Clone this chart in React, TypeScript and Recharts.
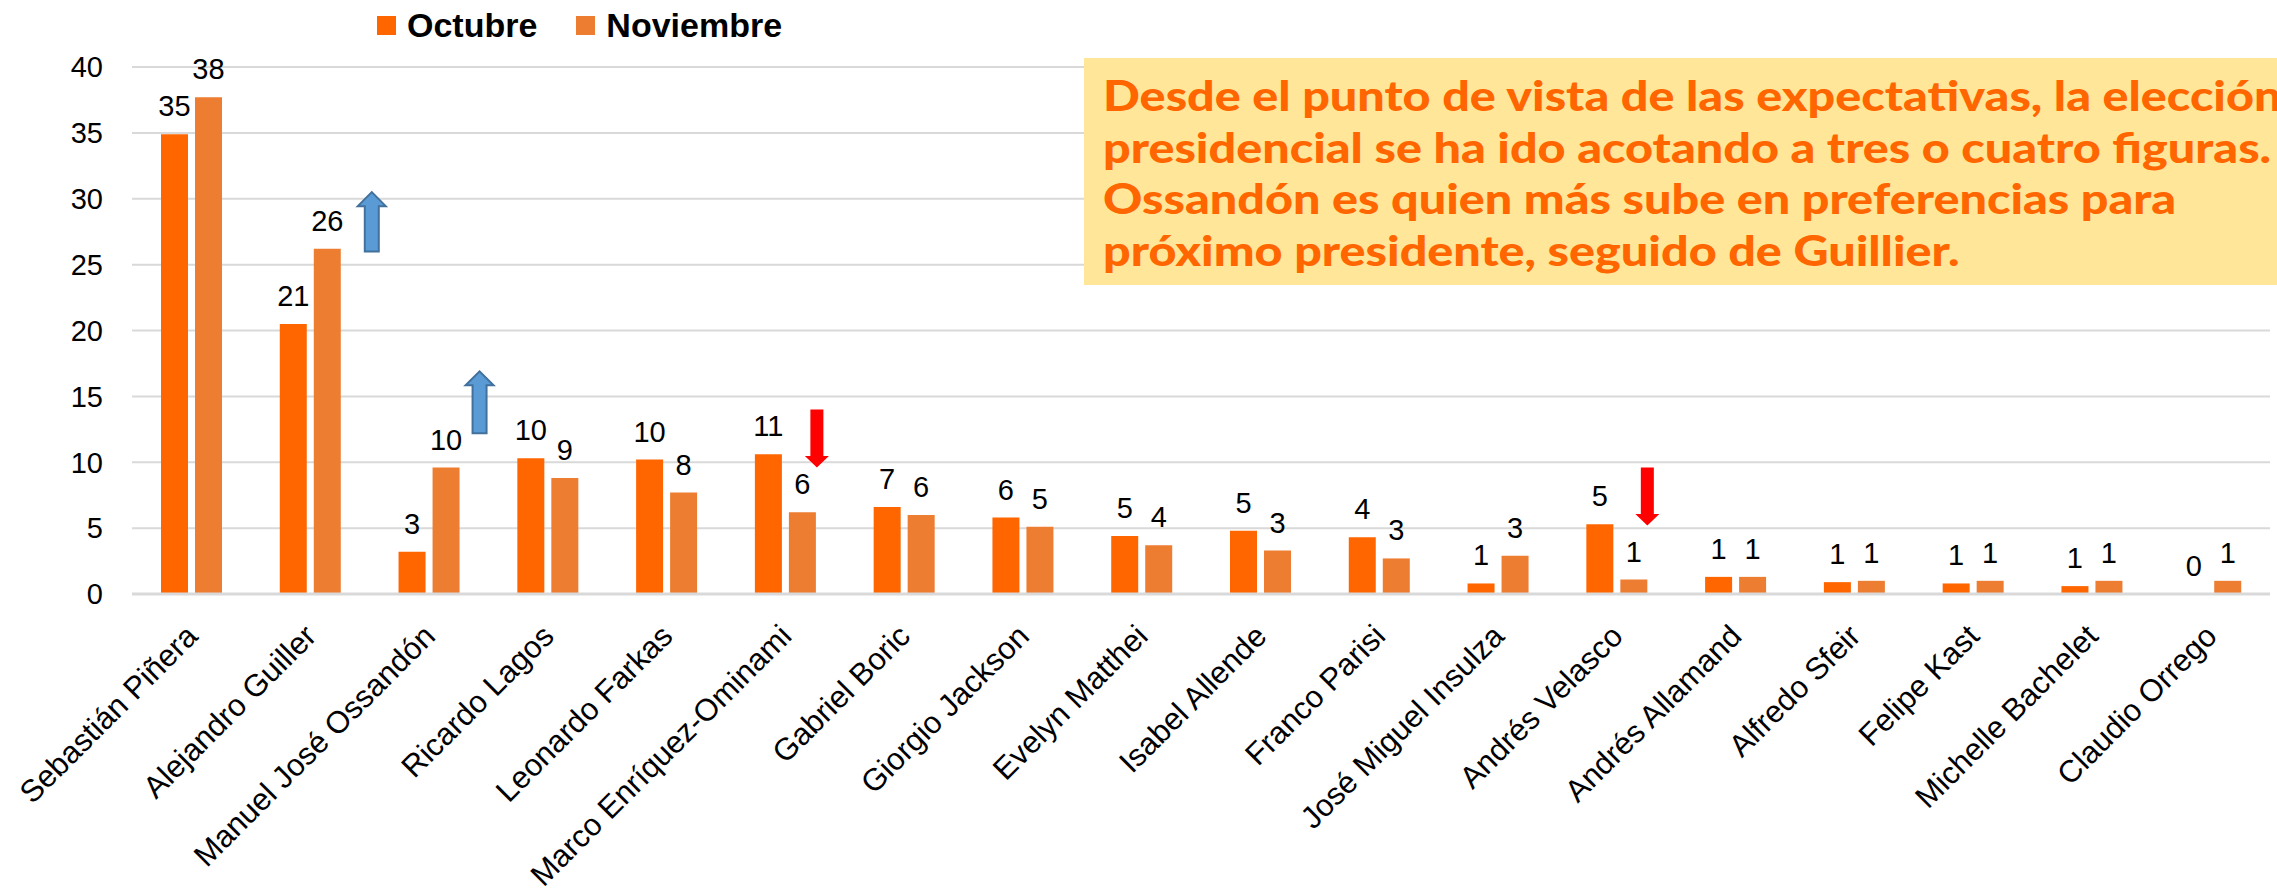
import React from 'react';
import { BarChart, Bar, XAxis, YAxis, CartesianGrid, Legend, LabelList } from 'recharts';

const candidatos = [
    'Sebastián Piñera',
    'Alejandro Guiller',
    'Manuel José Ossandón',
    'Ricardo Lagos',
    'Leonardo Farkas',
    'Marco Enríquez-Ominami',
    'Gabriel Boric',
    'Giorgio Jackson',
    'Evelyn Matthei',
    'Isabel Allende',
    'Franco Parisi',
    'José Miguel Insulza',
    'Andrés Velasco',
    'Andrés Allamand',
    'Alfredo Sfeir',
    'Felipe Kast',
    'Michelle Bachelet',
    'Claudio Orrego'
];

const series = ['Octubre', 'Noviembre'];

const octubre = [34.9, 20.5, 3.2, 10.3, 10.2, 10.6, 6.6, 5.8, 4.4, 4.8, 4.3, 0.8, 5.3, 1.3, 0.9, 0.8, 0.6, 0];
const noviembre = [37.7, 26.2, 9.6, 8.8, 7.7, 6.2, 6.0, 5.1, 3.7, 3.3, 2.7, 2.9, 1.1, 1.3, 1.0, 1.0, 1.0, 1.0];

const etiquetasOctubre = [35, 21, 3, 10, 10, 11, 7, 6, 5, 5, 4, 1, 5, 1, 1, 1, 1, 0];
const etiquetasNoviembre = [38, 26, 10, 9, 8, 6, 6, 5, 4, 3, 3, 3, 1, 1, 1, 1, 1, 1];

// flechas de tendencia (valores en la escala del eje)
const flechaDesde = [null, 26.0, 12.2, null, null, 14.0, null, null, null, null, null, null, 9.6, null, null, null, null, null];
const flechaHasta = [null, 30.5, 16.9, null, null, 9.6, null, null, null, null, null, null, 5.2, null, null, null, null, null];

const yTicks = [0, 5, 10, 15, 20, 25, 30, 35, 40];

const textoNota = [
    'Desde el punto de vista de las expectativas, la elección',
    'presidencial se ha ido acotando a tres o cuatro figuras.',
    'Ossandón es quien más sube en preferencias para',
    'próximo presidente, seguido de Guillier.'
];

const data = candidatos.map((name, i) => ({
    name,
    oct: octubre[i],
    nov: noviembre[i],
    octLabel: etiquetasOctubre[i],
    novLabel: etiquetasNoviembre[i],
    arrow: flechaDesde[i] === null ? null : 1
}));

const FONT = '"Liberation Sans", Arial, sans-serif';
const COLOR_OCT = '#FF6600';
const COLOR_NOV = '#ED7D31';
const BAR_SIZE = 27;
const BAR_GAP = 7;

// separacion horizontal de cada flecha respecto al borde derecho de la barra
const arrowShift: Record<number, number> = { 1: 31, 2: 20, 5: 1, 12: 0 };

const ValueLabel = (props: any) => {
    const vb = props.viewBox || props;
    const { x, y, width } = vb;
    return (
        <text x={x + width / 2} y={y - 18} textAnchor="middle" fontSize={29} fill="#000" fontFamily={FONT}>
            {props.value}
        </text>
    );
};

// las barras de altura cero no reciben etiqueta: se dibuja desde la barra vecina
const ZeroOctLabel = (props: any) => {
    const i = props.index;
    if (i === undefined || octubre[i] !== 0) return null;
    const vb = props.viewBox || props;
    const { x, y, width, height } = vb;
    const cx = x - BAR_GAP - width / 2;
    return (
        <text x={cx} y={y + height - 18} textAnchor="middle" fontSize={29} fill="#000" fontFamily={FONT}>
            {etiquetasOctubre[i]}
        </text>
    );
};

const TrendArrow = (props: any) => {
    const i = props.index;
    if (i === undefined || flechaDesde[i] === null) return null;
    const vb = props.viewBox || props;
    const { x, y, width, height } = vb;
    const perUnit = height / noviembre[i];
    const base = y + height;
    const y1 = base - (flechaDesde[i] as number) * perUnit;
    const y2 = base - (flechaHasta[i] as number) * perUnit;
    const cx = x + width + (arrowShift[i] ?? 0);
    const up = y2 < y1;
    const s = up ? -1 : 1;
    const sw = up ? 7 : 6.5;
    const hw = up ? 14 : 12;
    const hl = up ? 14 : 11.5;
    const neck = y2 - s * hl;
    const pts = [
        [cx - sw, y1], [cx - sw, neck], [cx - hw, neck], [cx, y2],
        [cx + hw, neck], [cx + sw, neck], [cx + sw, y1]
    ].map(p => p.join(',')).join(' ');
    return (
        <polygon
            points={pts}
            fill={up ? '#5B9BD5' : '#FF0000'}
            stroke={up ? '#41719C' : 'none'}
            strokeWidth={2}
        />
    );
};

const CategoryTick = (props: any) => {
    const { x, y, payload } = props;
    return (
        <text
            transform={`translate(${x + 8},${y + 36}) rotate(-45)`}
            textAnchor="end"
            fontSize={31}
            fill="#000"
            fontFamily={FONT}
        >
            {payload.value}
        </text>
    );
};

const renderLegend = (props: any) => {
    const items = [...(props.payload || [])].sort(
        (a: any, b: any) => series.indexOf(a.value) - series.indexOf(b.value)
    );
    return (
        <div style={{ display: 'flex', alignItems: 'center', fontFamily: FONT, fontWeight: 'bold', fontSize: 34, lineHeight: '40px', color: '#000' }}>
            {items.map((p: any, i: number) => (
                <div key={i} style={{ display: 'flex', alignItems: 'center', marginRight: 39 }}>
                    <span style={{ display: 'inline-block', width: 19, height: 19, background: p.color, marginRight: 11 }} />
                    <span>{p.value}</span>
                </div>
            ))}
        </div>
    );
};

export default function App() {
    return (
        <div style={{ position: 'relative', width: 2277, height: 892, overflow: 'hidden', background: '#fff' }}>
            <style>{'body{margin:0}'}</style>
            <BarChart
                width={2277}
                height={892}
                data={data}
                margin={{ top: 67, right: 7, left: 0, bottom: 0 }}
                barSize={BAR_SIZE}
                barGap={BAR_GAP}
            >
                <CartesianGrid vertical={false} stroke="#D9D9D9" strokeWidth={2} />
                <XAxis
                    dataKey="name"
                    interval={0}
                    height={298}
                    tickLine={false}
                    axisLine={{ stroke: '#D9D9D9', strokeWidth: 3 }}
                    tick={<CategoryTick />}
                />
                <YAxis
                    width={132}
                    domain={[0, 40]}
                    ticks={yTicks}
                    axisLine={false}
                    tickLine={false}
                    tickSize={0}
                    tickMargin={29}
                    tick={{ fill: '#000', fontSize: 29, fontFamily: FONT }}
                />
                <Legend
                    verticalAlign="middle"
                    align="center"
                    layout="horizontal"
                    wrapperStyle={{ top: 5, left: 377, width: 'auto', height: 'auto' }}
                    content={renderLegend}
                />
                <Bar dataKey="oct" name={series[0]} fill={COLOR_OCT} isAnimationActive={false}>
                    <LabelList dataKey="octLabel" content={<ValueLabel />} />
                </Bar>
                <Bar dataKey="nov" name={series[1]} fill={COLOR_NOV} isAnimationActive={false}>
                    <LabelList dataKey="novLabel" content={<ValueLabel />} />
                    <LabelList dataKey="octLabel" content={<ZeroOctLabel />} />
                    <LabelList dataKey="arrow" content={<TrendArrow />} />
                </Bar>
            </BarChart>

            <div
                style={{
                    position: 'absolute',
                    left: 1084,
                    top: 58,
                    width: 1300,
                    height: 227,
                    background: '#FFE699',
                    paddingTop: 12,
                    paddingLeft: 19,
                    boxSizing: 'border-box',
                    color: '#FF6600',
                    fontFamily: 'Lato, "Open Sans", sans-serif',
                    fontWeight: 900,
                    fontSize: 42,
                    lineHeight: '51.5px',
                    whiteSpace: 'nowrap'
                }}
            >
                {textoNota.map((line, i) => (
                    <div key={i} style={{ transform: 'scaleX(1.155)', transformOrigin: 'left center' }}>{line}</div>
                ))}
            </div>
        </div>
    );
}
